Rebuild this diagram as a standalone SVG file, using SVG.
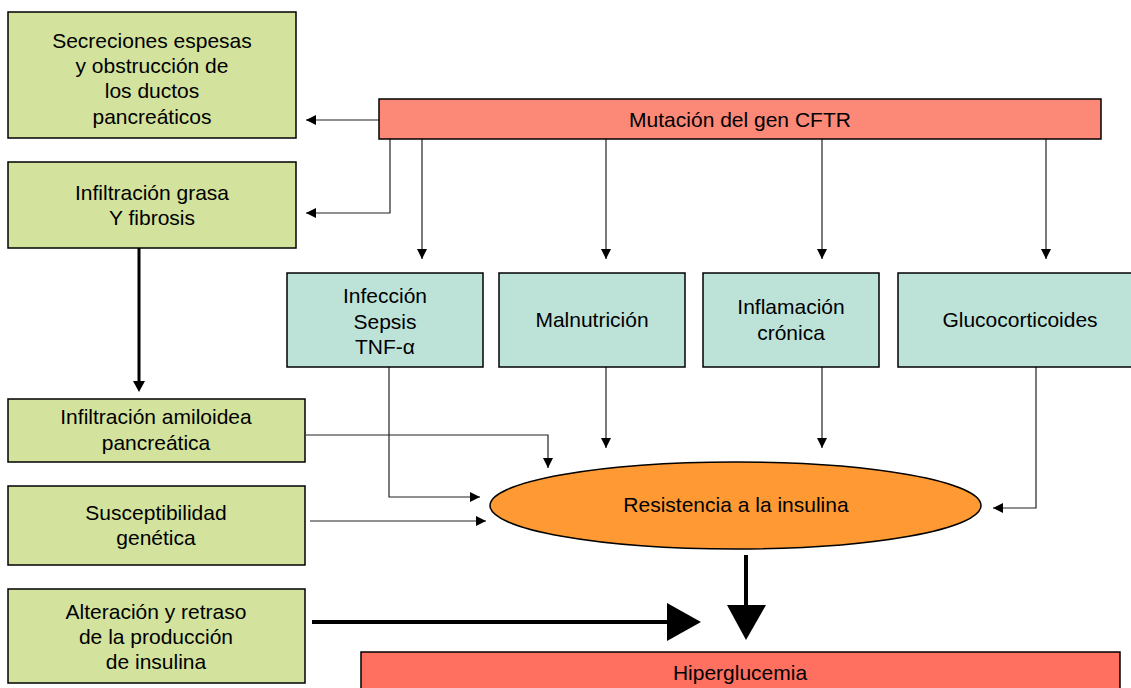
<svg xmlns="http://www.w3.org/2000/svg" width="1131" height="688" viewBox="0 0 1131 688">
<defs>
<style>
text{font-family:"Liberation Sans",Arial,sans-serif;font-size:21px;fill:#000;text-anchor:middle}
.g{fill:#D3E39D;stroke:#000;stroke-width:1.5}
.t{fill:#BDE3D8;stroke:#000;stroke-width:1.5}
.c{fill:none;stroke:#222;stroke-width:1.2}
.k{fill:none;stroke:#000;stroke-width:3}
.K{fill:none;stroke:#000;stroke-width:4}
</style>
<marker id="a" viewBox="0 0 10 10" refX="10" refY="5" markerWidth="10" markerHeight="10" markerUnits="userSpaceOnUse" orient="auto"><path d="M0,0L10,5L0,10Z" fill="#000"/></marker>
</defs>
<rect width="1131" height="688" fill="#fff"/>
<g id="connectors">
<path class="c" d="M379,120H306" marker-end="url(#a)"/>
<path class="c" d="M390,139V213H306" marker-end="url(#a)"/>
<path class="c" d="M422,139V259" marker-end="url(#a)"/>
<path class="c" d="M606,139V259" marker-end="url(#a)"/>
<path class="c" d="M822,139V259" marker-end="url(#a)"/>
<path class="c" d="M1046,139V259" marker-end="url(#a)"/>
<path class="c" d="M389,367V497H480" marker-end="url(#a)"/>
<path class="c" d="M606,367V448" marker-end="url(#a)"/>
<path class="c" d="M822,367V448" marker-end="url(#a)"/>
<path class="c" d="M1036,367V508H993" marker-end="url(#a)"/>
<path class="c" d="M306,435H548V468" marker-end="url(#a)"/>
<path class="c" d="M310,521H486" marker-end="url(#a)"/>
<path class="k" d="M139,248V382"/>
<path d="M133,381L139,392L145,381Z" fill="#000"/>
<path class="K" d="M312,622H668"/>
<path d="M667,603L701,622L667,641Z" fill="#000"/>
<path class="K" d="M746,555V607"/>
<path d="M727,605L766,605L746,640Z" fill="#000"/>
</g>
<g id="secreciones"><rect class="g" x="8" y="12" width="288" height="126"/>
<text x="152" y="48">Secreciones espesas</text><text x="152" y="73">y obstrucción de</text><text x="152" y="98">los ductos</text><text x="152" y="124">pancreáticos</text></g>
<g id="infiltracion-grasa"><rect class="g" x="8" y="162" width="288" height="86"/>
<text x="152" y="200">Infiltración grasa</text><text x="152" y="225">Y fibrosis</text></g>
<g id="amiloidea"><rect class="g" x="8" y="399" width="297" height="63"/>
<text x="156" y="424">Infiltración amiloidea</text><text x="156" y="450">pancreática</text></g>
<g id="susceptibilidad"><rect class="g" x="8" y="486" width="297" height="79"/>
<text x="156" y="520">Susceptibilidad</text><text x="156" y="545">genética</text></g>
<g id="alteracion"><rect class="g" x="8" y="589" width="297" height="94"/>
<text x="156" y="619">Alteración y retraso</text><text x="156" y="644">de la producción</text><text x="156" y="669">de insulina</text></g>
<g id="mutacion"><rect x="379" y="99" width="722" height="40" fill="#FC8878" stroke="#000" stroke-width="1.5"/>
<text x="740" y="127">Mutación del gen CFTR</text></g>
<g id="infeccion"><rect class="t" x="287" y="273" width="196" height="94"/>
<text x="385" y="303">Infección</text><text x="385" y="329">Sepsis</text><text x="385" y="354">TNF-α</text></g>
<g id="malnutricion"><rect class="t" x="499" y="273" width="186" height="94"/>
<text x="592" y="327">Malnutrición</text></g>
<g id="inflamacion"><rect class="t" x="703" y="273" width="176" height="94"/>
<text x="791" y="314">Inflamación</text><text x="791" y="340">crónica</text></g>
<g id="glucocorticoides"><rect class="t" x="898" y="273" width="240" height="94"/>
<text x="1020" y="327">Glucocorticoides</text></g>
<g id="resistencia"><ellipse cx="735.5" cy="505.5" rx="245.5" ry="43.5" fill="#FF9933" stroke="#000" stroke-width="1.5"/>
<text x="736" y="512">Resistencia a la insulina</text></g>
<g id="hiperglucemia"><rect x="361" y="652" width="759" height="50" fill="#FF7060" stroke="#000" stroke-width="1.5"/>
<text x="740" y="680">Hiperglucemia</text></g>
</svg>
